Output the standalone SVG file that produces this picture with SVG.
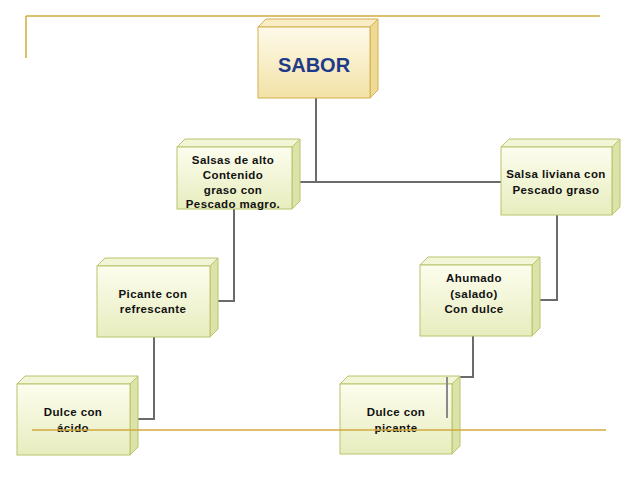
<svg xmlns="http://www.w3.org/2000/svg" width="638" height="479" viewBox="0 0 638 479">
<defs>
<linearGradient id="gy" x1="0" y1="0" x2="0" y2="1"><stop offset="0" stop-color="#FEFAEA"/><stop offset="1" stop-color="#F2E2A6"/></linearGradient>
<linearGradient id="gg" x1="0" y1="0" x2="0" y2="1"><stop offset="0" stop-color="#FCFDEE"/><stop offset="1" stop-color="#E8EDBE"/></linearGradient>
<style>
.gold{stroke:#D2AA3C;stroke-width:1.5;fill:none}
.fy{fill:url(#gy);stroke:#D3B04E;stroke-width:1}
.sy{fill:#EFDA95;stroke:#D3B04E;stroke-width:1}
.ty{fill:#F8EDC4;stroke:#D3B04E;stroke-width:1}
.fg{fill:url(#gg);stroke:#B9C46C;stroke-width:1}
.sg{fill:#DDE3A8;stroke:#B9C46C;stroke-width:1}
.tg{fill:#F2F5D6;stroke:#B9C46C;stroke-width:1}
.t{font-family:"Liberation Sans",Arial,sans-serif;font-weight:bold;font-size:11.5px;letter-spacing:0.4px;fill:#111;text-anchor:middle}
.big{font-family:"Liberation Sans",Arial,sans-serif;font-weight:bold;font-size:20px;fill:#1F3A88;text-anchor:middle}
.c{stroke:#6B6B6B;stroke-width:2;fill:none}
</style>
</defs>
<g id="frame-top">
<path class="gold" d="M26 16 H600 M26 16 V58"/>
</g>
<g id="connectors">
<path class="c" d="M316 98 V182 M292 182 H501"/>
<path class="c" d="M234 209 V301 H210"/>
<path class="c" d="M557 215 V300 H532"/>
<path class="c" d="M154 337 V419 H130"/>
<path class="c" d="M473 336 V377 H447 V418"/>
</g>
<g id="sabor">
<polygon class="ty" points="258,27 266,19 378,19 370,27"/>
<polygon class="sy" points="370,27 378,19 378,90 370,98"/>
<rect class="fy" x="258" y="27" width="112" height="71"/>
<text class="big" x="314" y="72">SABOR</text>
</g>
<g id="salsas-alto">
<polygon class="tg" points="177,147 185,139 300,139 292,147"/>
<polygon class="sg" points="292,147 300,139 300,201 292,209"/>
<rect class="fg" x="177" y="147" width="115" height="62"/>
<text class="t" x="233" y="164">Salsas de alto</text>
<text class="t" x="233" y="179">Contenido</text>
<text class="t" x="233" y="194">graso con</text>
<text class="t" x="233" y="208">Pescado magro.</text>
</g>
<g id="salsa-liviana">
<polygon class="tg" points="501,147 509,139 620,139 612,147"/>
<polygon class="sg" points="612,147 620,139 620,207 612,215"/>
<rect class="fg" x="501" y="147" width="111" height="68"/>
<text class="t" x="556" y="178">Salsa liviana con</text>
<text class="t" x="556" y="194">Pescado graso</text>
</g>
<g id="picante">
<polygon class="tg" points="97,266 105,258 218,258 210,266"/>
<polygon class="sg" points="210,266 218,258 218,329 210,337"/>
<rect class="fg" x="97" y="266" width="113" height="71"/>
<text class="t" x="153" y="298">Picante con</text>
<text class="t" x="153" y="313">refrescante</text>
</g>
<g id="ahumado">
<polygon class="tg" points="420,265 428,257 540,257 532,265"/>
<polygon class="sg" points="532,265 540,257 540,328 532,336"/>
<rect class="fg" x="420" y="265" width="112" height="71"/>
<text class="t" x="474" y="282">Ahumado</text>
<text class="t" x="474" y="298">(salado)</text>
<text class="t" x="474" y="313">Con dulce</text>
</g>
<g id="dulce-acido">
<polygon class="tg" points="17,384 25,376 138,376 130,384"/>
<polygon class="sg" points="130,384 138,376 138,447 130,455"/>
<rect class="fg" x="17" y="384" width="113" height="71"/>
<text class="t" x="73" y="416">Dulce con</text>
<text class="t" x="73" y="432">ácido</text>
</g>
<g id="dulce-picante">
<polygon class="tg" points="340,384 348,376 460,376 452,384"/>
<polygon class="sg" points="452,384 460,376 460,446 452,454"/>
<rect class="fg" x="340" y="384" width="112" height="70"/>
<text class="t" x="396" y="416">Dulce con</text>
<text class="t" x="396" y="432">picante</text>
<path d="M447 377 V418" stroke="#8A8A8A" stroke-width="2" fill="none"/>
</g>
<g id="frame-bottom">
<path class="gold" d="M32 430 H606"/>
</g>
</svg>
